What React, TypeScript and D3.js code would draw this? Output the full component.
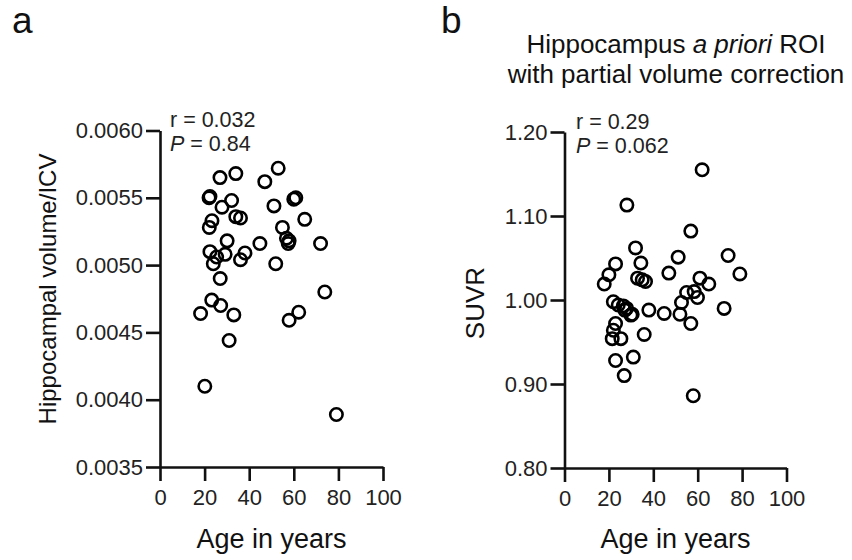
import React, { useEffect, useRef } from "react";
import * as d3 from "d3";

// Panel a: hippocampal volume normalised by intracranial volume
const ageA = [26.9, 34.0, 47.0, 53.0, 22.4, 22.0, 32.1, 27.8, 51.1, 60.0, 60.9, 34.0, 36.1, 23.3, 22.1, 64.9, 54.9, 30.1, 44.8, 56.7, 57.5, 57.9, 72.0, 22.4, 25.4, 23.9, 29.2, 38.1, 36.1, 51.9, 27.0, 23.2, 27.2, 18.2, 33.1, 31.0, 73.9, 57.9, 62.2, 20.1, 79.1];
const volA = [0.00565, 0.00568, 0.00562, 0.00572, 0.00551, 0.0055, 0.00548, 0.00543, 0.00544, 0.00549, 0.0055, 0.00536, 0.00535, 0.00533, 0.00528, 0.00534, 0.00528, 0.00518, 0.00516, 0.0052, 0.00516, 0.00518, 0.00516, 0.0051, 0.00506, 0.00501, 0.00508, 0.00509, 0.00504, 0.00501, 0.0049, 0.00474, 0.0047, 0.00464, 0.00463, 0.00444, 0.0048, 0.00459, 0.00465, 0.0041, 0.00389];

// Panel b: SUVR, hippocampus ROI with partial volume correction
const ageB = [62.0, 28.1, 56.9, 32.0, 51.2, 73.7, 23.0, 34.4, 20.0, 17.9, 47.0, 79.0, 32.9, 35.0, 36.5, 61.0, 65.0, 55.0, 58.4, 59.9, 52.7, 22.0, 24.2, 26.5, 28.0, 27.2, 29.9, 30.5, 38.0, 44.9, 52.0, 56.9, 71.9, 23.0, 22.0, 21.5, 25.4, 35.9, 23.0, 31.0, 26.9, 58.0];
const suvrB = [1.155, 1.113, 1.082, 1.062, 1.051, 1.053, 1.043, 1.044, 1.03, 1.019, 1.032, 1.031, 1.026, 1.024, 1.022, 1.026, 1.019, 1.009, 1.01, 1.003, 0.997, 0.998, 0.994, 0.993, 0.99, 0.988, 0.982, 0.983, 0.988, 0.984, 0.983, 0.972, 0.99, 0.972, 0.964, 0.954, 0.954, 0.959, 0.928, 0.932, 0.91, 0.886];

const xTicks = [0, 20, 40, 60, 80, 100];
const yTicksA = [0.0035, 0.004, 0.0045, 0.005, 0.0055, 0.006];
const yTicksB = [0.8, 0.9, 1.0, 1.1, 1.2];

const statsA = { r: "0.032", p: "0.84" };
const statsB = { r: "0.29", p: "0.062" };

const FONT = "'Liberation Sans', Arial, Helvetica, sans-serif";
const INK = "#111";

type PanelSpec = {
  x0: number;
  x1: number;
  yTop: number;
  yBottom: number;
  yDomain: [number, number];
  yTicks: number[];
  yFormat: string;
  ages: number[];
  values: number[];
  yLabel: string;
  yLabelX: number;
  yLabelY: number;
  yLabelSize: number;
  stats: { r: string; p: string };
  statsX: number;
  statsY: number;
};

function drawPanel(g: d3.Selection<SVGGElement, unknown, null, undefined>, s: PanelSpec) {
  const x = d3.scaleLinear().domain([0, 100]).range([s.x0, s.x1]);
  const y = d3.scaleLinear().domain(s.yDomain).range([s.yBottom, s.yTop]);

  const xAxis = d3
    .axisBottom(x)
    .tickValues(xTicks)
    .tickSize(14)
    .tickSizeOuter(0)
    .tickPadding(8)
    .tickFormat(d3.format("d") as any);
  const yAxis = d3
    .axisLeft(y)
    .tickValues(s.yTicks)
    .tickSize(14)
    .tickSizeOuter(0)
    .tickPadding(3)
    .tickFormat(d3.format(s.yFormat) as any);

  const styleAxis = (ax: d3.Selection<SVGGElement, unknown, null, undefined>) => {
    ax.attr("font-family", FONT).attr("font-size", 22);
    ax.select(".domain").attr("stroke", INK).attr("stroke-width", 2.6);
    ax.selectAll(".tick line").attr("stroke", INK).attr("stroke-width", 2.6);
    ax.selectAll(".tick text").attr("fill", "#222");
  };

  g.append("g")
    .attr("transform", `translate(0,${s.yBottom})`)
    .call(xAxis as any)
    .call(styleAxis as any);
  g.append("g")
    .attr("transform", `translate(${s.x0},0)`)
    .call(yAxis as any)
    .call(styleAxis as any);

  // Age axis title
  g.append("text")
    .attr("x", (s.x0 + s.x1) / 2)
    .attr("y", 548)
    .attr("text-anchor", "middle")
    .attr("font-family", FONT)
    .attr("font-size", 27)
    .attr("fill", INK)
    .text("Age in years");

  // Value axis title
  g.append("text")
    .attr("transform", `translate(${s.yLabelX},${s.yLabelY}) rotate(-90)`)
    .attr("text-anchor", "middle")
    .attr("dy", "0.35em")
    .attr("font-family", FONT)
    .attr("font-size", s.yLabelSize)
    .attr("fill", INK)
    .text(s.yLabel);

  // Correlation statistics
  const st = g.append("g").attr("font-family", FONT).attr("font-size", 21.5).attr("fill", "#222");
  st.append("text").attr("x", s.statsX).attr("y", s.statsY).text(`r = ${s.stats.r}`);
  const pt = st.append("text").attr("x", s.statsX).attr("y", s.statsY + 24);
  pt.append("tspan").attr("font-style", "italic").text("P");
  pt.append("tspan").text(` = ${s.stats.p}`);

  // Subjects
  const pts = d3.range(s.ages.length).map((i) => [s.ages[i], s.values[i]] as [number, number]);
  g.append("g")
    .selectAll("circle")
    .data(pts)
    .join("circle")
    .attr("cx", (d) => x(d[0]))
    .attr("cy", (d) => y(d[1]))
    .attr("r", 6.2)
    .attr("fill", "none")
    .attr("stroke", "#000")
    .attr("stroke-width", 2.6);
}

export default function App() {
  const ref = useRef<SVGSVGElement>(null);

  useEffect(() => {
    const svg = d3.select(ref.current!);
    svg.selectAll("*").remove();

    // Panel letters
    svg
      .append("text")
      .attr("x", 12)
      .attr("y", 33)
      .attr("font-family", FONT)
      .attr("font-size", 37)
      .attr("fill", INK)
      .text("a");
    svg
      .append("text")
      .attr("x", 441)
      .attr("y", 33)
      .attr("font-family", FONT)
      .attr("font-size", 37)
      .attr("fill", INK)
      .text("b");

    // Panel b heading
    const title = svg
      .append("text")
      .attr("text-anchor", "middle")
      .attr("font-family", FONT)
      .attr("font-size", 26)
      .attr("fill", INK);
    const l1 = title.append("tspan").attr("x", 676).attr("y", 53);
    l1.append("tspan").text("Hippocampus ");
    l1.append("tspan").attr("font-style", "italic").text("a priori");
    l1.append("tspan").text(" ROI");
    title.append("tspan").attr("x", 676).attr("y", 83).text("with partial volume correction");

    drawPanel(svg.append("g"), {
      x0: 160,
      x1: 383,
      yTop: 130.5,
      yBottom: 467,
      yDomain: [0.0035, 0.006],
      yTicks: yTicksA,
      yFormat: ".4f",
      ages: ageA,
      values: volA,
      yLabel: "Hippocampal volume/ICV",
      yLabelX: 48,
      yLabelY: 289,
      yLabelSize: 24,
      stats: statsA,
      statsX: 170,
      statsY: 127,
    });

    drawPanel(svg.append("g"), {
      x0: 564.5,
      x1: 786.5,
      yTop: 132,
      yBottom: 468,
      yDomain: [0.8, 1.2],
      yTicks: yTicksB,
      yFormat: ".2f",
      ages: ageB,
      values: suvrB,
      yLabel: "SUVR",
      yLabelX: 475,
      yLabelY: 303,
      yLabelSize: 26,
      stats: statsB,
      statsX: 576,
      statsY: 129,
    });
  }, []);

  return (
    <svg
      ref={ref}
      width={852}
      height={560}
      style={{ position: "absolute", left: 0, top: 0, background: "#fff" }}
    />
  );
}
